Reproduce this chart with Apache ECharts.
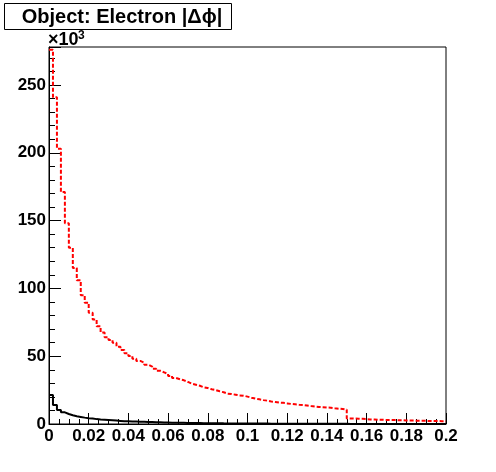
<!DOCTYPE html>
<html>
<head>
<meta charset="utf-8">
<script src="https://cdn.jsdelivr.net/npm/echarts@6/dist/echarts.min.js"></script>
<style>
html,body{margin:0;padding:0;background:#fff;}
#chart{width:496px;height:472px;}
</style>
</head>
<body>
<div id="chart"></div>
<script>
// Histogram: 100 bins from 0 to 0.2 (values in units of 10^3)
var xMin = 0, xMax = 0.2, nBins = 100;
var redValues = [
  276, 241, 203, 171, 148, 130, 115, 106, 95, 89.5,
  82, 77, 72, 67.5, 64, 62, 60, 57, 54.6, 52.1,
  50.1, 48.2, 46.5, 45.2, 43.7, 42.3, 40.8, 39.3, 38.1, 36.9,
  35.4, 33.9, 33, 32.2, 31, 29.7, 29, 28.2, 27.1, 26.5,
  25.6, 25, 24.1, 23.4, 22.4, 22.1, 21.6, 21.1, 20.9, 20.2,
  19.4, 18.7, 18.2, 17.6, 17.2, 16.6, 16.2, 15.8, 15.6, 15.2,
  14.8, 14.5, 14.2, 14, 13.6, 13.2, 12.9, 12.6, 12.4, 12.2,
  12, 11.6, 11.3, 11, 10.6, 4.1, 4.0, 3.9, 3.8, 3.6,
  3.4, 3.3, 3.2, 3.1, 3.0, 3.0, 2.9, 2.8, 2.8, 2.6,
  2.5, 2.5, 2.4, 2.4, 2.3, 2.3, 2.2, 2.2, 2.1, 2.1
];
var blackValues = [
  21.4, 14, 10.3, 8.6, 7.4, 6.4, 5.7, 5.2, 4.7, 4.3,
  4.0, 3.6, 3.3, 3.1, 2.9, 2.7, 2.5, 2.3, 2.1, 2.0,
  1.9, 1.8, 1.7, 1.6, 1.5, 1.4, 1.3, 1.2, 1.1, 1.05,
  1.0, 0.95, 0.9, 0.85, 0.8, 0.75, 0.7, 0.66, 0.62, 0.58,
  0.55, 0.52, 0.5, 0.47, 0.45, 0.43, 0.41, 0.39, 0.37, 0.35,
  0.33, 0.32, 0.3, 0.29, 0.28, 0.27, 0.26, 0.25, 0.24, 0.23,
  0.22, 0.21, 0.2, 0.19, 0.18, 0.18, 0.17, 0.16, 0.16, 0.15,
  0.15, 0.14, 0.14, 0.13, 0.13, 0.05, 0.05, 0.05, 0.05, 0.05,
  0.04, 0.04, 0.04, 0.04, 0.04, 0.04, 0.03, 0.03, 0.03, 0.03,
  0.03, 0.03, 0.03, 0.03, 0.03, 0.02, 0.02, 0.02, 0.02, 0.02
];
var yMax = 278;
var yMajorLabels = [0, 50, 100, 150, 200, 250];
var titleText = 'Object: Electron |\u0394\u03D5|';
var exponentBase = '\u00D710';
var exponentPower = '3';

function stepData(vals) {
  var w = (xMax - xMin) / nBins;
  var out = [];
  for (var i = 0; i < vals.length; i++) out.push([xMin + i * w, vals[i]]);
  out.push([xMax, vals[vals.length - 1]]);
  return out;
}

var font = 'Liberation Sans, Arial, Helvetica, sans-serif';
var chart = echarts.init(document.getElementById('chart'), null, {renderer: 'canvas'});
var option = {
  animation: false,
  backgroundColor: '#ffffff',
  grid: {left: 49, top: 47, right: 50, bottom: 48, show: true, borderColor: '#000', borderWidth: 1, backgroundColor: 'transparent'},
  xAxis: {
    type: 'value', min: xMin, max: xMax, interval: 0.02,
    axisLine: {show: true, onZero: false, lineStyle: {color: '#000', width: 1}},
    axisTick: {show: true, inside: true, length: 11, lineStyle: {color: '#000', width: 1}},
    minorTick: {show: true, splitNumber: 4, length: 5, lineStyle: {color: '#000', width: 1}},
    splitLine: {show: false},
    axisLabel: {
      color: '#000', fontSize: 17, fontWeight: 'bold', fontFamily: font, margin: 4,
      showMinLabel: true, showMaxLabel: true,
      formatter: function (v) { return String(+v.toFixed(3)); }
    }
  },
  yAxis: [{
    type: 'value', min: 0, max: yMax, interval: 10,
    axisLine: {show: true, onZero: false, lineStyle: {color: '#000', width: 1}},
    axisTick: {show: true, inside: true, length: 6, lineStyle: {color: '#000', width: 1}},
    splitLine: {show: false},
    axisLabel: {
      color: '#000', fontSize: 17, fontWeight: 'bold', fontFamily: font, margin: 3,
      showMaxLabel: false,
      formatter: function (v) { return yMajorLabels.indexOf(Math.round(v)) >= 0 && Math.abs(v - Math.round(v)) < 1e-6 ? String(Math.round(v)) : ''; }
    }
  }, {
    type: 'value', min: 0, max: yMax, interval: 50, position: 'left',
    axisLine: {show: false, onZero: false},
    axisTick: {show: true, inside: true, length: 12, lineStyle: {color: '#000', width: 1}},
    splitLine: {show: false},
    axisLabel: {show: false}
  }],
  series: [{
    type: 'line', step: 'end', yAxisIndex: 0, data: stepData(redValues),
    symbol: 'none', clip: true,
    lineStyle: {color: '#ff0000', width: 2, type: [4, 2]}
  }, {
    type: 'line', step: 'end', yAxisIndex: 0, data: stepData(blackValues),
    symbol: 'none', clip: true,
    lineStyle: {color: '#000000', width: 2, type: 'solid'}
  }],
  graphic: [{
    type: 'rect', left: 4, top: 3, z: 10,
    shape: {width: 227, height: 26},
    style: {fill: '#fff', stroke: '#000', lineWidth: 1}
  }, {
    type: 'text', x: 122, y: 17, z: 11,
    style: {text: titleText, font: 'bold 20px ' + font, fill: '#000', align: 'center', verticalAlign: 'middle'}
  }, {
    type: 'text', x: 48, y: 49, z: 11,
    style: {text: exponentBase, font: 'bold 18px ' + font, fill: '#000', align: 'left', verticalAlign: 'bottom'}
  }, {
    type: 'text', x: 78, y: 30, z: 11,
    style: {text: exponentPower, font: 'bold 12px ' + font, fill: '#000', align: 'left', verticalAlign: 'top'}
  }]
};
chart.setOption(option);
</script>
</body>
</html>
